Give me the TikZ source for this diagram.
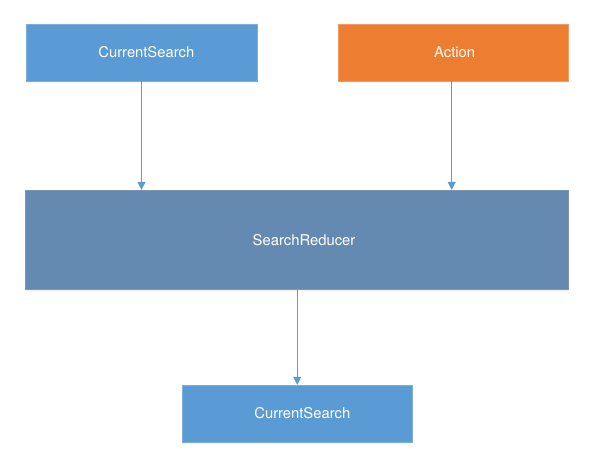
\documentclass[tikz,border=0pt]{standalone}
\usepackage{fontspec}
\setmainfont{TeX Gyre Heros}
\usetikzlibrary{arrows.meta,shadows}
\definecolor{csblue}{HTML}{5B9BD5}
\definecolor{csborder}{HTML}{7FAEDD}
\definecolor{actorange}{HTML}{ED7D31}
\definecolor{actborder}{HTML}{F09A66}
\definecolor{redblue}{HTML}{648AB2}
\definecolor{redborder}{HTML}{7F93AA}
\definecolor{arrowblue}{HTML}{5B9BD5}
\tikzset{
  box/.style={draw, line width=0.8pt, text=white, inner sep=0pt,
    font=\fontsize{14.8}{18}\selectfont,
    drop shadow={opacity=0.08, shadow xshift=0pt, shadow yshift=-2pt}},
  csbox/.style={box, fill=csblue, draw=csborder, minimum width=231pt, minimum height=57pt},
  actbox/.style={box, fill=actorange, draw=actborder, minimum width=230pt, minimum height=57pt},
  redbox/.style={box, fill=redblue, draw=redborder, minimum width=543pt, minimum height=99.5pt},
  conn/.style={draw=arrowblue, line width=0.9pt, -{Triangle[width=8pt,length=8pt]}}
}
\begin{document}
\begin{tikzpicture}[x=1pt,y=1pt]
\useasboundingbox (0,0) rectangle (596,472);
\fill[white] (0,0) rectangle (596,472);
\node[csbox] (cs1) at (141.5,419.5) {\hspace*{9.6pt}CurrentSearch};
\node[actbox] (act) at (453.3,419.5) {\hspace*{2.8pt}Action};
\node[redbox] (red) at (297.2,232) {\hspace*{13.6pt}SearchReducer};
\node[csbox, minimum width=230pt, minimum height=56.7pt] (cs2) at (297.3,58.4) {\hspace*{10pt}CurrentSearch};
\draw[conn] (cs1.south) -- (cs1.south |- red.north);
\draw[conn] ([xshift=-1.6pt]act.south) -- ([xshift=-1.6pt]act.south |- red.north);
\draw[conn] (red.south) -- (red.south |- cs2.north);
\end{tikzpicture}
\end{document}
